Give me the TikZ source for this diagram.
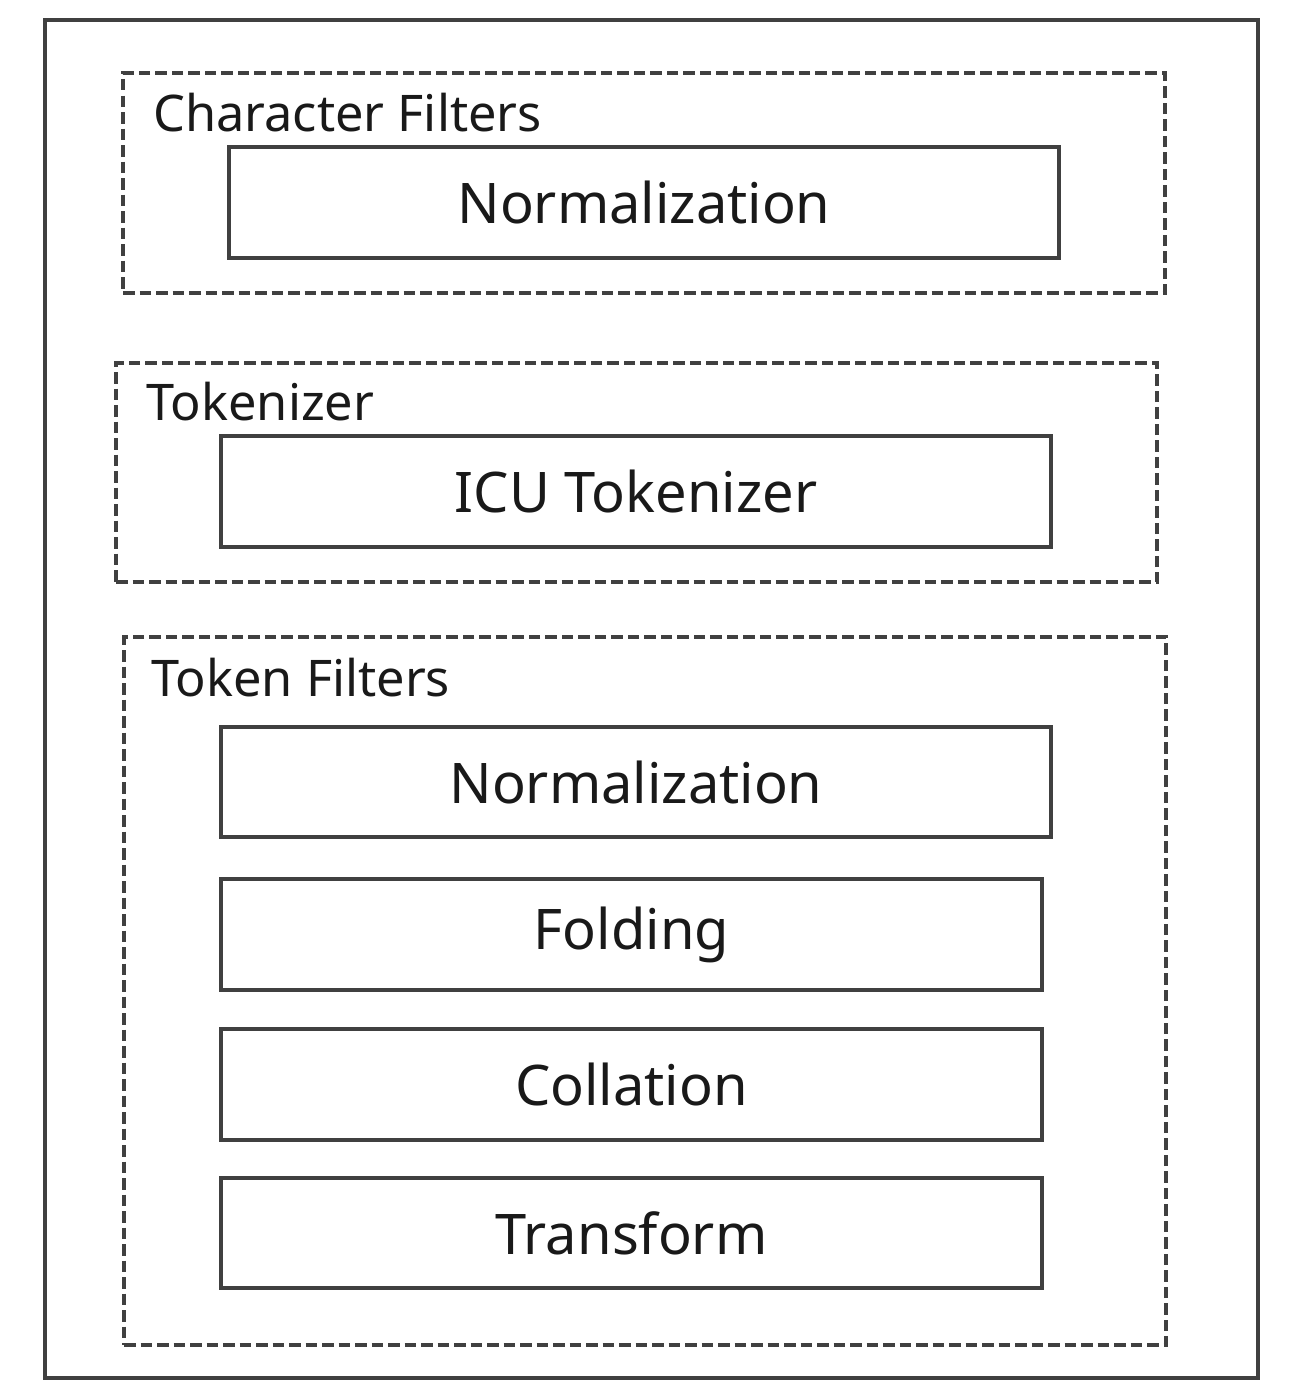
\documentclass[tikz,border=0pt]{standalone}
\usepackage{fontspec}
\setmainfont{Noto Sans}
\begin{document}
\begin{tikzpicture}[x=1pt,y=-1pt,
  ink/.style={draw=black!75},
  frame/.style={ink, line width=4pt},
  group/.style={ink, line width=3.6pt, dash pattern=on 11.5pt off 5pt,
    rectangle, inner sep=0pt},
  stage/.style={ink, line width=3.4pt, rectangle, inner sep=0pt,
    text=black!90, font=\fontsize{56}{66}\selectfont},
  caption/.style={anchor=base west, inner sep=0pt, text=black!90,
    font=\fontsize{50.5}{60}\selectfont}]
  \useasboundingbox (0,0) rectangle (1291,1392);
  % outer frame
  \draw[frame] (45,20) rectangle (1258,1378);

  % character filter group
  \node[group, minimum width=1042pt, minimum height=220pt] (cf) at (644,183) {};
  \node[caption] (cflab) at (153,131) {Character Filters};
  \node[stage, minimum width=830pt, minimum height=111pt] (cfnorm) at (644,202.5) {Normalization};

  % tokenizer group
  \node[group, minimum width=1041pt, minimum height=219pt] (tk) at (636.5,472.5) {};
  \node[caption] (tklab) at (146,420) {Tokenizer};
  \node[stage, minimum width=830pt, minimum height=111pt] (icu) at (636,491.5) {ICU Tokenizer};

  % token filter group
  \node[group, minimum width=1042pt, minimum height=708pt] (tf) at (645,991) {};
  \node[caption] (tflab) at (151,696) {Token Filters};
  \node[stage, minimum width=830pt, minimum height=110pt] (tfnorm) at (636,782) {Normalization};
  \node[stage, minimum width=821pt, minimum height=111pt] (fold) at (631.5,934.5) {Folding};
  \node[stage, minimum width=821pt, minimum height=111pt] (coll) at (631.5,1084.5) {Collation};
  \node[stage, minimum width=821pt, minimum height=110pt] (trans) at (631.5,1233) {Transform};
\end{tikzpicture}
\end{document}
